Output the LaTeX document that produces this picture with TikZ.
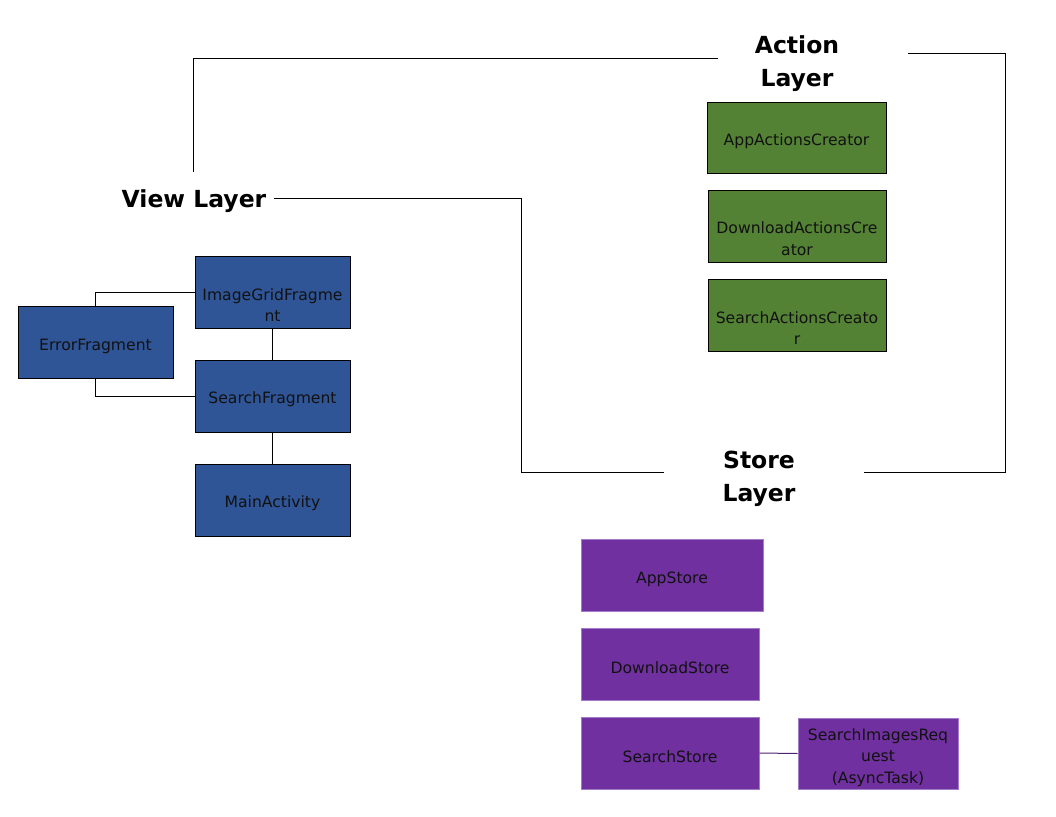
\documentclass[tikz,border=0pt]{standalone}
\usepackage{fontspec}
\setmainfont{DejaVu Sans}
\definecolor{actgreen}{HTML}{548235}
\definecolor{viewblue}{HTML}{2F5597}
\definecolor{storepurple}{HTML}{7030A0}
\definecolor{storeborder}{HTML}{A27CC8}
\definecolor{boxtext}{HTML}{111111}
\tikzset{
  box/.style={draw=black, line width=1pt, inner sep=0pt},
  boxtxt/.style={inner sep=0pt, align=center, text=boxtext,
    font=\fontsize{15.6}{21.8}\selectfont},
  actbox/.style={box, fill=actgreen},
  viewbox/.style={box, fill=viewblue},
  storebox/.style={box, fill=storepurple, draw=storeborder},
  layertitle/.style={align=center, inner sep=0pt, font=\fontsize{23.5}{33}\bfseries\selectfont},
  conn/.style={draw=black, line width=1pt},
}
\begin{document}
\begin{tikzpicture}[x=1pt,y=-1pt]
\useasboundingbox[fill=white] (0,0) rectangle (1056,816);

% Action layer
\node[layertitle] (actT) at (797,64) {Action\\Layer};
\node[actbox, minimum width=179, minimum height=71] (acA) at (796.5,137.5) {};
\node[boxtxt] (acAt) at (796.5,141) {AppActionsCreator};
\node[actbox, minimum width=178, minimum height=72] (acD) at (797,226) {};
\node[boxtxt] (acDt) at (797,239) {DownloadActionsCre\\ator};
\node[actbox, minimum width=178, minimum height=72] (acS) at (797,315) {};
\node[boxtxt] (acSt) at (797,328) {SearchActionsCreato\\r};

% View layer
\node[layertitle] (viewT) at (194,201) {View Layer};
\node[viewbox, minimum width=155, minimum height=72] (igf) at (272.5,292) {};
\node[boxtxt] (igft) at (272.5,305) {ImageGridFragme\\nt};
\node[viewbox, minimum width=155, minimum height=72] (err) at (95.5,342) {};
\node[boxtxt] (errt) at (95.5,346) {ErrorFragment};
\node[viewbox, minimum width=155, minimum height=72] (sf) at (272.5,396) {};
\node[boxtxt] (sft) at (272.5,399.5) {SearchFragment};
\node[viewbox, minimum width=155, minimum height=72] (ma) at (272.5,500) {};
\node[boxtxt] (mat) at (272.5,503.5) {MainActivity};

% Store layer
\node[layertitle] (storeT) at (759,479) {Store\\Layer};
\node[storebox, minimum width=182, minimum height=72] (as) at (672,575) {};
\node[boxtxt] (ast) at (672,579) {AppStore};
\node[storebox, minimum width=178, minimum height=72] (ds) at (670,664) {};
\node[boxtxt] (dst) at (670,667.5) {DownloadStore};
\node[storebox, minimum width=178, minimum height=72] (ss) at (670,753) {};
\node[boxtxt] (sst) at (670,756.5) {SearchStore};
\node[storebox, minimum width=160, minimum height=71] (sir) at (878,753.5) {};
\node[boxtxt] (sirt) at (878,757.5) {SearchImagesReq\\uest\\(AsyncTask)};

% line ends around the titles
\coordinate (v1) at (193,172);
\coordinate (v2) at (274,198);
\coordinate (a1) at (718,58);
\coordinate (a2) at (908,54);
\coordinate (rc) at (1005,54);
\coordinate (s1) at (664,472);
\coordinate (s2) at (864,472);
\coordinate (lc) at (521,198);

% big loop
\draw[conn] (v1) |- (a1);
\draw[conn] (a2) -- (rc) |- (s2);
\draw[conn] (s1) -| (lc) -- (v2);

% view layer connectors
\draw[conn] (igf.west) -| (err.north);
\draw[conn] (err.south) |- (sf.west);
\draw[conn] (igf.south) -- (sf.north);
\draw[conn] (sf.south) -- (ma.north);

% store connector
\draw[draw=storepurple!70!black, line width=1pt] (ss.east) -- (sir.west);
\end{tikzpicture}
\end{document}
